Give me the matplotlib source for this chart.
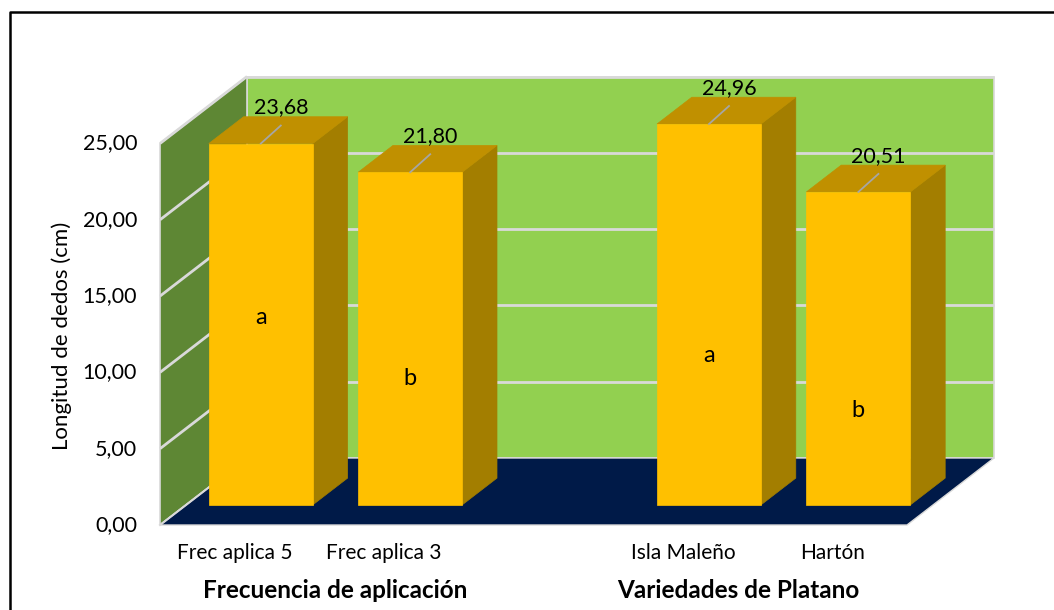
import matplotlib
matplotlib.use("Agg")
import matplotlib.pyplot as plt
from matplotlib.patches import Polygon
from matplotlib.lines import Line2D

# ---- data ----
categories = ["Frec aplica 5", "Frec aplica 3", "", "Isla Maleño", "Hartón"]
values = [23.68, 21.80, None, 24.96, 20.51]
value_labels = ["23,68", "21,80", "", "24,96", "20,51"]
letters = ["a", "b", "", "a", "b"]
letter_heights = [12.3, 8.3, None, 9.8, 6.2]
groups = ["Frecuencia de aplicación", "Variedades de Platano"]
group_centers = [1.17, 3.87]
yticks = [0, 5, 10, 15, 20, 25]
ytick_labels = ["0,00", "5,00", "10,00", "15,00", "20,00", "25,00"]
ylabel = "Longitud de dedos (cm)"

# ---- style ----
FONT = "Lato"
C_FRONT = "#FFC000"
C_TOP = "#C09000"
C_SIDE = "#A37E00"
C_BACK = "#92D050"
C_LWALL = "#5E8734"
C_FLOOR = "#001A48"
C_GRID = "#D9D9D9"

W, H = 1054, 610
fig = plt.figure(figsize=(W / 100, H / 100), dpi=100)
ax = fig.add_axes([0, 0, 1, 1])
ax.axis("off")

# pixel mapping: x=0 -> 160 px, 149.4 px/unit ; v=0 -> 525 px (from top), 15.26 px/unit
PX, PV = 149.4, 15.26
X0P, V0P = 160.0, 525.0
ax.set_xlim(-X0P / PX, (W - X0P) / PX)
ax.set_ylim((V0P - H) / PV, V0P / PV)

DX = 87 / PX       # depth offset in x units
DY = 67 / PV       # depth offset in value units
N = len(categories)
VMAX = 25


def P(x, v, d):
    return (x + d * DX, v + d * DY)


# walls
back = [P(0, 0, 1), P(N, 0, 1), P(N, VMAX, 1), P(0, VMAX, 1)]
ax.add_patch(Polygon(back, closed=True, facecolor=C_BACK, edgecolor=C_GRID, lw=1.2, zorder=1))
lwall = [P(0, 0, 0), P(0, 0, 1), P(0, VMAX, 1), P(0, VMAX, 0)]
ax.add_patch(Polygon(lwall, closed=True, facecolor=C_LWALL, edgecolor=C_GRID, lw=1.2, zorder=1))
floor = [P(0, 0, 0), P(N, 0, 0), P(N, 0, 1), P(0, 0, 1)]
ax.add_patch(Polygon(floor, closed=True, facecolor=C_FLOOR, edgecolor=C_GRID, lw=1.0, zorder=2))

# gridlines
for t in yticks[1:]:
    a, b = P(0, t, 1), P(N, t, 1)
    ax.plot([a[0], b[0]], [a[1], b[1]], color=C_GRID, lw=2, zorder=1.5, solid_capstyle="butt")
    a, b = P(0, t, 0), P(0, t, 1)
    ax.plot([a[0], b[0]], [a[1], b[1]], color=C_GRID, lw=2, zorder=1.5, solid_capstyle="butt")
a, b = P(0, 0, 0), P(0, 0, 1)
ax.plot([a[0], b[0]], [a[1], b[1]], color=C_GRID, lw=1.5, zorder=2.5)

# bars
BW = 0.696
D0, D1 = 0.3, 0.7
for i, v in enumerate(values):
    if v is None:
        continue
    x0 = i + 0.5 - BW / 2
    x1 = i + 0.5 + BW / 2
    side = [P(x1, 0, D0), P(x1, 0, D1), P(x1, v, D1), P(x1, v, D0)]
    top = [P(x0, v, D0), P(x1, v, D0), P(x1, v, D1), P(x0, v, D1)]
    front = [P(x0, 0, D0), P(x1, 0, D0), P(x1, v, D0), P(x0, v, D0)]
    z = 3 + i * 0.1
    ax.add_patch(Polygon(side, closed=True, facecolor=C_SIDE, edgecolor=C_SIDE, lw=0.5, zorder=z))
    ax.add_patch(Polygon(top, closed=True, facecolor=C_TOP, edgecolor=C_TOP, lw=0.5, zorder=z))
    ax.add_patch(Polygon(front, closed=True, facecolor=C_FRONT, edgecolor=C_FRONT, lw=0.5, zorder=z + 0.01))
    # value label with leader line
    cx, cy = P(i + 0.5, v, D0)
    lx, ly = cx + 20 / PX, cy + 18 / PV
    ax.plot([cx, lx], [cy, ly], color="#A6A6A6", lw=1.3, zorder=5)
    ax.text(cx + 20 / PX, cy + 36 / PV, value_labels[i], ha="center", va="center",
            fontsize=15.5, family=FONT, color="black", zorder=6)
    # significance letter
    lx2, ly2 = P(i + 0.5, letter_heights[i], D0)
    ax.text(lx2, ly2, letters[i], ha="center", va="center", fontsize=17,
            family=FONT, color="black", zorder=6)

# y tick labels
for t, lab in zip(yticks, ytick_labels):
    ax.text(-23 / PX, t, lab, ha="right", va="center", fontsize=15.5, family=FONT, color="black")

# y label
ax.text((62 - X0P) / PX, (V0P - 336) / PV, ylabel, rotation=90, ha="center", va="center",
        fontsize=16, family=FONT, color="black")

# category labels
for i, c in enumerate(categories):
    if c:
        ax.text(i + 0.5, (V0P - 553) / PV, c, ha="center", va="center", fontsize=15,
                family=FONT, color="black")

# group labels
for g, gc in zip(groups, group_centers):
    ax.text(gc, (V0P - 590) / PV, g, ha="center", va="center", fontsize=17.5,
            family=FONT, fontweight="bold", color="black")

# chart frame (left and top edges visible)
fig.add_artist(Line2D([9.5 / W, 9.5 / W, 1.0], [0.0, 1 - 11.5 / H, 1 - 11.5 / H],
                      transform=fig.transFigure, color="black", lw=1.8))

fig.savefig("out.png", dpi=100)
